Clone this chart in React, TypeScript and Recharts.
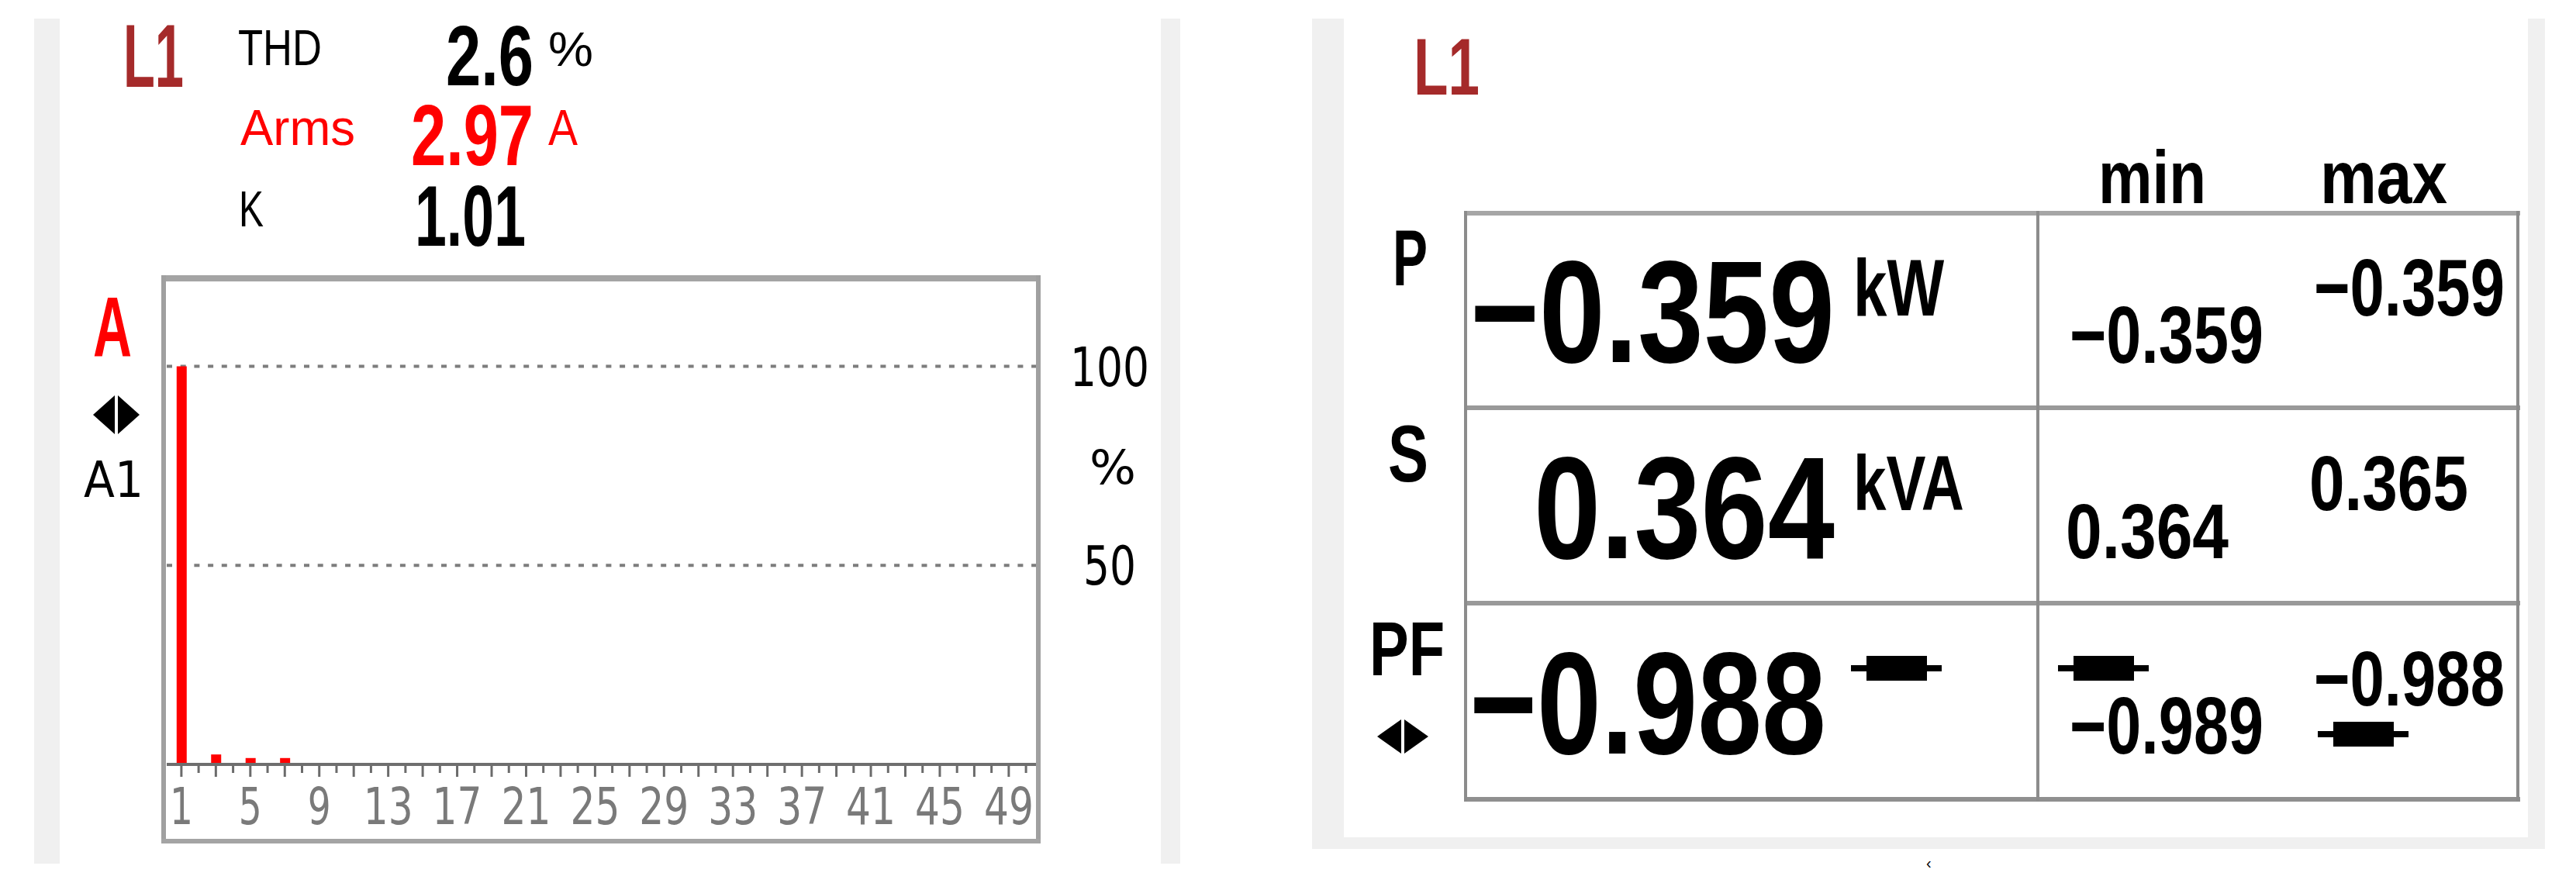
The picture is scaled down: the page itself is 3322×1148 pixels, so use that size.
import React from "react";
import { BarChart, Bar, XAxis, YAxis, CartesianGrid } from "recharts";

// harmonic spectrum of L1 current, % of fundamental
const harmonicOrder = [
  1, 2, 3, 4, 5, 6, 7, 8, 9, 10, 11, 12, 13, 14, 15, 16, 17, 18, 19, 20, 21, 22, 23, 24, 25,
  26, 27, 28, 29, 30, 31, 32, 33, 34, 35, 36, 37, 38, 39, 40, 41, 42, 43, 44, 45, 46, 47, 48, 49, 50,
];
const harmonicPct = [
  100, 0, 2.5, 0, 1.6, 0, 1.6, 0, 0, 0, 0, 0, 0, 0, 0, 0, 0, 0, 0, 0, 0, 0, 0, 0, 0,
  0, 0, 0, 0, 0, 0, 0, 0, 0, 0, 0, 0, 0, 0, 0, 0, 0, 0, 0, 0, 0, 0, 0, 0, 0,
];
const xTickLabels = [1, 5, 9, 13, 17, 21, 25, 29, 33, 37, 41, 45, 49];
const yTickLabels = [50, 100];

const phase = "L1";
const thdPct = "2.6";
const armsValue = "2.97";
const kFactor = "1.01";

const powerLabels = ["P", "S", "PF"];
const powerUnits = ["kW", "kVA"];
const powerNow = ["\u22120.359", "0.364", "\u22120.988"];
const powerMin = ["\u22120.359", "0.364", "\u22120.989"];
const powerMax = ["\u22120.359", "0.365", "\u22120.988"];

const data = harmonicOrder.map((h, i) => ({ h, pct: harmonicPct[i] }));

const SANS = "'Liberation Sans', Arial, sans-serif";
const DEJA = "'DejaVu Sans', Verdana, sans-serif";
const STRIP = "#f0f0f0";
const LINE = "#8c8c8c";

function Txt({ x, y, cap, w, children, fill = "#000", bold = false, font = SANS, anchor = "start" }: any) {
  const k = font === DEJA ? 0.729 : 0.716;
  return (
    <text
      x={x}
      y={y}
      fontSize={cap / k}
      fontFamily={font}
      fontWeight={bold ? 700 : 400}
      fill={fill}
      textAnchor={anchor}
      textLength={w}
      lengthAdjust="spacingAndGlyphs"
    >
      {children}
    </text>
  );
}

function Arrows({ x, y, w, h }: any) {
  const half = w / 2;
  return (
    <g fill="#000">
      <polygon points={`${x},${y + h / 2} ${x + half - 2},${y} ${x + half - 2},${y + h}`} />
      <polygon points={`${x + w},${y + h / 2} ${x + half + 2},${y} ${x + half + 2},${y + h}`} />
    </g>
  );
}

// capacitive / inductive marker next to PF
function PfMark({ x, cy }: any) {
  return (
    <g fill="#000">
      <rect x={x} y={cy - 4} width={117} height={8} />
      <rect x={x + 20} y={cy - 16} width={78} height={32} />
    </g>
  );
}

function HarmonicTick(props: any) {
  const { x, y, payload } = props;
  const v = payload.value;
  const long = v % 2 === 1;
  const two = v >= 10;
  return (
    <g>
      <line x1={x} x2={x} y1={y + 2} y2={y + (long ? 16 : 11)} stroke="#6b6b6b" strokeWidth={3} />
      {xTickLabels.includes(v) && (
        <Txt x={x} y={y + 77} cap={48} w={two ? 64 : 30} fill="#7a7a7a" font={DEJA} anchor="middle">
          {v}
        </Txt>
      )}
    </g>
  );
}

function PctTick(props: any) {
  const { x, y, payload } = props;
  const w = payload.value >= 100 ? 102 : 68;
  return (
    <Txt x={x + 95} y={y + 25} cap={50} w={w} font={DEJA} anchor="middle">
      {payload.value}
    </Txt>
  );
}

export default function App() {
  return (
    <div style={{ position: "absolute", left: 0, top: 0, width: 3322, height: 1148, background: "#fff", overflow: "hidden" }}>
      {/* panel frames */}
      <div style={{ position: "absolute", left: 44, top: 24, width: 33, height: 1090, background: STRIP }} />
      <div style={{ position: "absolute", left: 1497, top: 24, width: 25, height: 1090, background: STRIP }} />
      <div style={{ position: "absolute", left: 1692, top: 24, width: 41, height: 1071, background: STRIP }} />
      <div style={{ position: "absolute", left: 3260, top: 24, width: 22, height: 1071, background: STRIP }} />
      <div style={{ position: "absolute", left: 1692, top: 1080, width: 1590, height: 15, background: STRIP }} />

      <div style={{ position: "absolute", left: 215, top: 363 }}>
        <BarChart width={1305} height={719} data={data} margin={{ top: 0, right: 0, bottom: 0, left: 0 }}>
          <CartesianGrid
            vertical={false}
            horizontalValues={yTickLabels}
            stroke="#7d7d7d"
            strokeWidth={4}
            strokeDasharray="7 10.7"
          />
          <XAxis
            dataKey="h"
            type="number"
            domain={[0.15, 50.58]}
            allowDataOverflow
            ticks={harmonicOrder}
            interval={0}
            tick={<HarmonicTick />}
            tickLine={false}
            tickSize={0}
            tickMargin={0}
            axisLine={{ stroke: "#6e6e6e", strokeWidth: 4 }}
            height={96}
          />
          <YAxis
            orientation="right"
            domain={[0, 121.35]}
            allowDataOverflow
            ticks={yTickLabels}
            interval={0}
            width={184}
            axisLine={false}
            tickLine={false}
            tickSize={0}
            tickMargin={0}
            tick={<PctTick />}
          />
          <Bar dataKey="pct" fill="#ff0000" barSize={13} isAnimationActive={false} />
        </BarChart>
      </div>

      <svg width={3322} height={1148} style={{ position: "absolute", left: 0, top: 0, pointerEvents: "none" }}>
        {/* spectrum frame */}
        <rect x={208} y={355} width={1134} height={8} fill="#a4a4a4" />
        <rect x={208} y={355} width={6} height={733} fill="#a0a0a0" />
        <rect x={1336} y={355} width={6} height={733} fill="#a0a0a0" />
        <rect x={208} y={1082} width={1134} height={6} fill="#a4a4a4" />

        {/* left header */}
        <Txt x={159} y={112} cap={82} w={78} fill="#a52a2a" bold>{phase}</Txt>
        <Txt x={307} y={84} cap={47} w={108}>THD</Txt>
        <Txt x={575} y={110} cap={78} w={113} bold>{thdPct}</Txt>
        <Txt x={707} y={85} cap={45} w={58}>%</Txt>
        <Txt x={310} y={187} cap={47} w={148} fill="#ff0000">Arms</Txt>
        <Txt x={530} y={213} cap={80} w={158} fill="#ff0000" bold>{armsValue}</Txt>
        <Txt x={707} y={187} cap={47} w={38} fill="#ff0000">A</Txt>
        <Txt x={308} y={292} cap={47} w={32}>K</Txt>
        <Txt x={535} y={317} cap={80} w={143} bold>{kFactor}</Txt>

        {/* spectrum side labels */}
        <Txt x={120} y={459} cap={79} w={50} fill="#ff0000" bold>A</Txt>
        <Arrows x={120} y={510} w={60} h={50} />
        <Txt x={108} y={641} cap={47} w={77} font={DEJA}>A1</Txt>
        <Txt x={1405} y={624} cap={44} w={60} font={DEJA}>%</Txt>

        {/* right panel */}
        <Txt x={1823} y={122} cap={75} w={85} fill="#a52a2a" bold>{phase}</Txt>
        <Txt x={2706} y={262} cap={69} w={139} bold>min</Txt>
        <Txt x={2992} y={262} cap={69} w={164} bold>max</Txt>

        <rect x={1888} y={272} width={1362} height={6} fill="#a6a6a6" />
        <rect x={1888} y={523} width={1362} height={6} fill="#999" />
        <rect x={1888} y={775} width={1362} height={6} fill="#999" />
        <rect x={1888} y={1028} width={1362} height={6} fill="#8f8f8f" />
        <rect x={1888} y={272} width={4} height={762} fill={LINE} />
        <rect x={2626} y={272} width={4} height={762} fill={LINE} />
        <rect x={3245} y={272} width={4} height={762} fill={LINE} />

        <Txt x={1796} y={368} cap={73} w={45} bold>{powerLabels[0]}</Txt>
        <Txt x={1790} y={621} cap={75} w={52} bold>{powerLabels[1]}</Txt>
        <Txt x={1766} y={871} cap={71} w={97} bold>{powerLabels[2]}</Txt>
        <Arrows x={1776} y={928} w={66} h={44} />

        <Txt x={1896} y={467} cap={134} w={470} bold>{powerNow[0]}</Txt>
        <Txt x={1978} y={720} cap={134} w={388} bold>{powerNow[1]}</Txt>
        <Txt x={1895} y={972} cap={134} w={460} bold>{powerNow[2]}</Txt>
        <Txt x={2390} y={407} cap={75} w={117} bold>{powerUnits[0]}</Txt>
        <Txt x={2390} y={658} cap={72} w={143} bold>{powerUnits[1]}</Txt>
        <PfMark x={2387} cy={862} />

        <Txt x={2669} y={468} cap={75} w={250} bold>{powerMin[0]}</Txt>
        <Txt x={2664} y={720} cap={72} w={210} bold>{powerMin[1]}</Txt>
        <PfMark x={2654} cy={862} />
        <Txt x={2669} y={972} cap={74} w={250} bold>{powerMin[2]}</Txt>

        <Txt x={2984} y={407} cap={75} w={246} bold>{powerMax[0]}</Txt>
        <Txt x={2978} y={658} cap={72} w={205} bold>{powerMax[1]}</Txt>
        <Txt x={2984} y={910} cap={72} w={246} bold>{powerMax[2]}</Txt>
        <PfMark x={2989} cy={947} />

        <text x={2484} y={1120} fontSize={20} fontFamily={SANS} fill="#000">{"\u2039"}</text>
      </svg>
    </div>
  );
}
